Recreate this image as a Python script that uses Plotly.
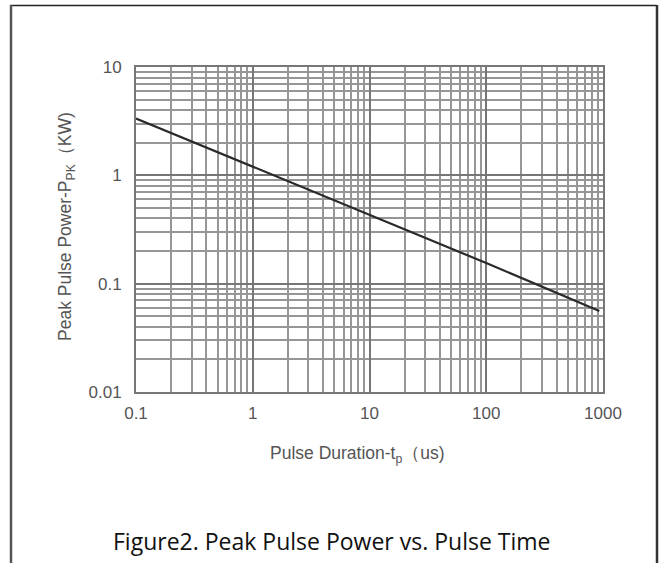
import plotly.graph_objects as go

# Data
duration_us = [0.1, 1, 10, 100, 930]
peak_power_kw = [3.35, 1.2, 0.43, 0.155, 0.056]

x_ticks = [0.1, 1, 10, 100, 1000]
x_tick_labels = ["0.1", "1", "10", "100", "1000"]
y_ticks = [0.01, 0.1, 1, 10]
y_tick_labels = ["0.01", "0.1", "1", "10"]

x_minor = [d * k for d in [0.1, 1, 10, 100] for k in range(2, 10)]
y_minor = [d * k for d in [0.01, 0.1, 1] for k in range(2, 10)]

x_title = "Pulse Duration-t<sub>p</sub>（us)"
y_title = "Peak Pulse Power-P<sub>PK</sub>（KW)"
caption = "Figure2. Peak Pulse Power vs. Pulse Time"

W, H = 661, 563
L, R, T, B = 136, 58, 67, 171
pw, ph = W - L - R, H - T - B


def px_x(p):
    return (p - L) / pw


def px_y(p):
    return 1 - (p - T) / ph


fig = go.Figure()
fig.add_trace(go.Scatter(
    x=duration_us, y=peak_power_kw, mode="lines",
    line=dict(color="#2a2a2a", width=2.2), showlegend=False, hoverinfo="skip"))

sans = "Liberation Sans, Arial, sans-serif"
tick_font = dict(family=sans, size=17, color="#555555")
title_font = dict(family=sans, size=17.5, color="#555555")

fig.update_xaxes(
    type="log", range=[-1, 3],
    tickmode="array", tickvals=x_ticks, ticktext=x_tick_labels,
    showgrid=True, gridcolor="#767676", gridwidth=1.6,
    minor=dict(tickmode="array", tickvals=x_minor, showgrid=True,
               gridcolor="#969696", gridwidth=1.6, ticks=""),
    showline=True, mirror=True, linecolor="#777777", linewidth=2,
    ticks="", ticklabelstandoff=5, tickfont=tick_font, zeroline=False,
)
fig.update_yaxes(
    type="log", range=[-2, 1],
    tickmode="array", tickvals=y_ticks, ticktext=y_tick_labels,
    showgrid=True, gridcolor="#767676", gridwidth=1.6,
    minor=dict(tickmode="array", tickvals=y_minor, showgrid=True,
               gridcolor="#969696", gridwidth=1.6, ticks=""),
    showline=True, mirror=True, linecolor="#777777", linewidth=2,
    ticks="", ticklabelstandoff=9, tickfont=tick_font, zeroline=False,
)

# axis titles
fig.add_annotation(text=x_title, xref="paper", yref="paper",
                   x=px_x(357), y=px_y(454), showarrow=False,
                   font=title_font, xanchor="center", yanchor="middle")
fig.add_annotation(text=y_title, xref="paper", yref="paper",
                   x=px_x(66), y=px_y(227), showarrow=False, textangle=-90,
                   font=title_font, xanchor="center", yanchor="middle")

# outer frame of the figure
fig.add_shape(type="line", xref="paper", yref="paper",
              x0=px_x(10), x1=px_x(657), y0=px_y(5.5), y1=px_y(5.5),
              line=dict(color="#222222", width=1.5))
fig.add_shape(type="line", xref="paper", yref="paper",
              x0=px_x(11), x1=px_x(11), y0=px_y(5), y1=px_y(600),
              line=dict(color="#555555", width=2.5))
fig.add_shape(type="line", xref="paper", yref="paper",
              x0=px_x(657), x1=px_x(657), y0=px_y(5), y1=px_y(600),
              line=dict(color="#333333", width=2.5))

fig.add_annotation(text=caption, xref="paper", yref="paper",
                   x=px_x(331), y=px_y(541), showarrow=False,
                   font=dict(family="Open Sans, Noto Sans, sans-serif", size=23, color="#111111"),
                   xanchor="center", yanchor="middle")

fig.update_layout(
    width=W, height=H,
    margin=dict(l=L, r=R, t=T, b=B, autoexpand=False),
    paper_bgcolor="white", plot_bgcolor="white",
)

fig.write_html("out.html", config={"displayModeBar": False},
               post_script="document.body.style.margin='0';document.body.style.overflow='hidden';")
